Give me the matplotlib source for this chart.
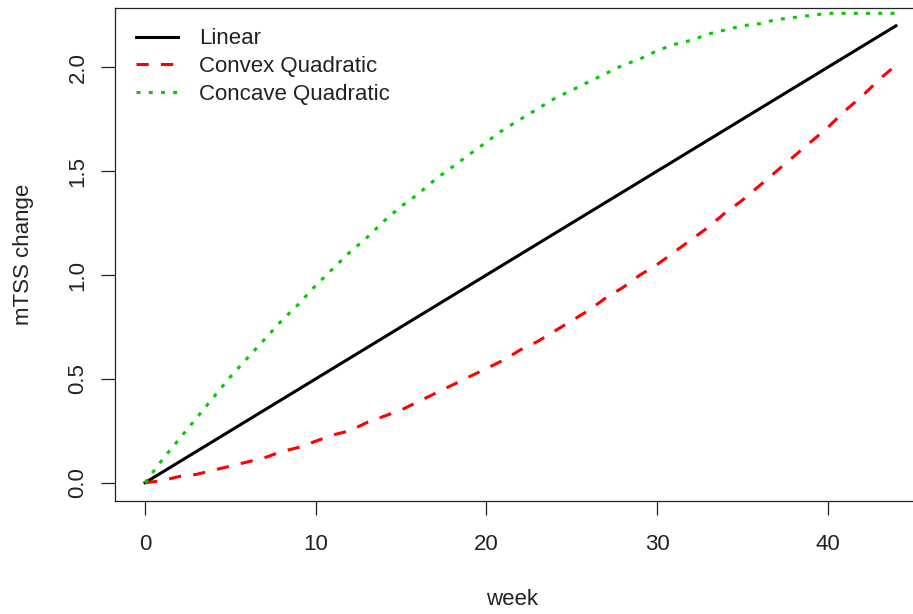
#!/usr/bin/env python3
# mTSS change over weeks for three trajectory shapes (base-R style plot)
import numpy as np
import matplotlib
matplotlib.use("Agg")
import matplotlib.pyplot as plt

plt.rcParams["font.family"] = ["Liberation Sans", "DejaVu Sans"]

# values, one per week
weeks = list(range(0, 45))
linear = [0.00, 0.05, 0.10, 0.15, 0.20, 0.25, 0.30, 0.35, 0.40, 0.45,
          0.50, 0.55, 0.60, 0.65, 0.70, 0.75, 0.80, 0.85, 0.90, 0.95,
          1.00, 1.05, 1.10, 1.15, 1.20, 1.25, 1.30, 1.35, 1.40, 1.45,
          1.50, 1.55, 1.60, 1.65, 1.70, 1.75, 1.80, 1.85, 1.90, 1.95,
          2.00, 2.05, 2.10, 2.15, 2.20]
convex = [0.00, 0.01, 0.03, 0.04, 0.06, 0.08, 0.10, 0.12, 0.15, 0.17,
          0.20, 0.23, 0.25, 0.29, 0.32, 0.35, 0.39, 0.43, 0.47, 0.51,
          0.55, 0.59, 0.64, 0.68, 0.73, 0.78, 0.83, 0.89, 0.94, 1.00,
          1.05, 1.11, 1.17, 1.23, 1.30, 1.36, 1.43, 1.50, 1.57, 1.64,
          1.71, 1.79, 1.86, 1.94, 2.01]
concave = [0.00, 0.11, 0.21, 0.31, 0.41, 0.51, 0.60, 0.69, 0.78, 0.86,
           0.95, 1.03, 1.11, 1.18, 1.26, 1.33, 1.39, 1.46, 1.52, 1.58,
           1.64, 1.70, 1.75, 1.80, 1.85, 1.89, 1.93, 1.97, 2.01, 2.04,
           2.08, 2.11, 2.13, 2.16, 2.18, 2.20, 2.21, 2.23, 2.24, 2.25,
           2.26, 2.26, 2.26, 2.26, 2.26]
labels = ["Linear", "Convex Quadratic", "Concave Quadratic"]
xticks = [0, 10, 20, 30, 40]
yticks = [0.0, 0.5, 1.0, 1.5, 2.0]

W, H = 913, 614
fig = plt.figure(figsize=(W / 100, H / 100), dpi=100)
# plot box runs past the right edge of the picture, as in the reference
ax = fig.add_axes([115 / W, (H - 501) / H, (926 - 115) / W, (501 - 7.5) / H])

lw = 2.2
ax.plot(weeks, linear, color="black", lw=lw, label=labels[0])
ax.plot(weeks, convex, color="#ff0000", lw=lw, dashes=(4, 4), label=labels[1])
ax.plot(weeks, concave, color="#00cd00", lw=lw, dashes=(1.3, 2.7), label=labels[2])

ax.set_xlim(-1.76, 45.76)
ax.set_ylim(-0.088, 2.288)
ax.set_xticks(xticks)
ax.set_xticklabels([str(t) for t in xticks])
ax.set_yticks(yticks)
ax.set_yticklabels([f"{t:.1f}" for t in yticks])

for s in ax.spines.values():
    s.set_linewidth(0.9)
    s.set_color("#222222")
ax.tick_params(axis="both", length=10, width=0.9, color="#222222",
               labelsize=16, labelcolor="#222222")
ax.tick_params(axis="x", pad=14)
ax.tick_params(axis="y", pad=9, labelrotation=90)
for t in ax.get_yticklabels():
    t.set_va("center")

ax.set_xlabel("week", fontsize=16, color="#222222")
ax.xaxis.set_label_coords(0.49, -0.2)
ax.xaxis.label.set_va("center")
ax.set_ylabel("mTSS change", fontsize=16, color="#222222")
ax.yaxis.set_label_coords(-0.113, 0.5)
ax.yaxis.label.set_va("center")

ax.legend(loc="upper left", frameon=False, fontsize=16,
          bbox_to_anchor=(21 / 811, 1 - 21 / 493.5), borderaxespad=0,
          borderpad=0, handlelength=1.9, handletextpad=0.93,
          labelspacing=0.30, labelcolor="#222222")

fig.savefig("out.png", dpi=100)
